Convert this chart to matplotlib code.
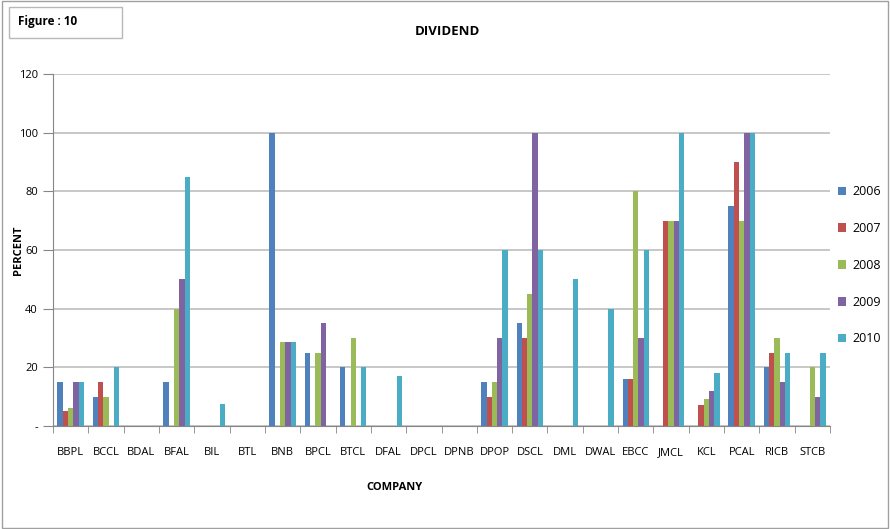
import matplotlib
matplotlib.use("Agg")
import matplotlib.pyplot as plt
import numpy as np
from matplotlib.patches import Rectangle

companies = ["BBPL", "BCCL", "BDAL", "BFAL", "BIL", "BTL", "BNB", "BPCL", "BTCL", "DFAL",
             "DPCL", "DPNB", "DPOP", "DSCL", "DML", "DWAL", "EBCC", "JMCL", "KCL", "PCAL",
             "RICB", "STCB"]
years = ["2006", "2007", "2008", "2009", "2010"]

div_2006 = [15, 10, 0, 15, 0, 0, 100, 25, 20, 0, 0, 0, 15, 35, 0, 0, 16, 0, 0, 75, 20, 0]
div_2007 = [5, 15, 0, 0, 0, 0, 0, 0, 0, 0, 0, 0, 10, 30, 0, 0, 16, 70, 7, 90, 25, 0]
div_2008 = [6, 10, 0, 40, 0, 0, 28.5, 25, 30, 0, 0, 0, 15, 45, 0, 0, 80, 70, 9, 70, 30, 20]
div_2009 = [15, 0, 0, 50, 0, 0, 28.5, 35, 0, 0, 0, 0, 30, 100, 0, 0, 30, 70, 12, 100, 15, 10]
div_2010 = [15, 20, 0, 85, 7.5, 0, 28.5, 0, 20, 17, 0, 0, 60, 60, 50, 40, 60, 100, 18, 100, 25, 25]

series = [div_2006, div_2007, div_2008, div_2009, div_2010]
colors = ["#4F81BD", "#C0504D", "#9BBB59", "#8064A2", "#4BACC6"]
yticks = [0, 20, 40, 60, 80, 100, 120]
ytick_labels = ["-", "20", "40", "60", "80", "100", "120"]

plt.rcParams["font.family"] = ["Open Sans", "DejaVu Sans"]

fig = plt.figure(figsize=(8.90, 5.29), dpi=100)
ax = fig.add_axes([0.0596, 0.195, 0.873, 0.665])

x = np.arange(len(companies))
w = 0.15
for i, (vals, c, yr) in enumerate(zip(series, colors, years)):
    ax.bar(x + (i - 2) * w, vals, width=w, color=c, label=yr, zorder=3)

ax.set_xlim(-0.5, len(companies) - 0.5)
ax.set_ylim(0, 120)
ax.set_yticks(yticks)
ax.set_yticklabels(ytick_labels, fontsize=8)
ax.set_xticks(x)
ax.set_xticklabels(companies, fontsize=8)
ax.tick_params(axis="x", length=0, pad=15)
ax.set_xticks(np.arange(-0.5, len(companies), 1.0), minor=True)
ax.tick_params(axis="x", which="minor", length=5, color="#868686", direction="out")
ax.tick_params(axis="y", length=7, color="#868686", direction="out", pad=4)

ax.grid(axis="y", color="#BEBEBE", linewidth=1.2, zorder=0)
for s in ["top", "right"]:
    ax.spines[s].set_visible(False)
for s in ["left", "bottom"]:
    ax.spines[s].set_color("#868686")

ax.set_ylabel("PERCENT", fontsize=8, fontweight="bold")
ax.yaxis.set_label_coords(-0.037, 0.5)
ax.set_xlabel("COMPANY", fontsize=8, fontweight="bold")
ax.xaxis.set_label_coords(0.44, -0.16)

fig.text(0.503, 0.941, "DIVIDEND", ha="center", va="center", fontsize=9.5, fontweight="bold")

leg = ax.legend(loc="upper left", bbox_to_anchor=(1.0, 0.705), frameon=False,
                fontsize=9, handlelength=0.7, handleheight=0.7, handletextpad=0.5,
                labelspacing=1.9, borderaxespad=0.2)

# outer frame and figure caption box
fig.patches.append(Rectangle((0.002, 0.002), 0.996, 0.996, transform=fig.transFigure,
                             fill=False, edgecolor="#A0A0A0", linewidth=1.0))
fig.patches.append(Rectangle((9 / 890, 1 - 38 / 529), 113 / 890, 31 / 529, transform=fig.transFigure,
                             fill=False, edgecolor="#B8B8B8", linewidth=1.0))
fig.text(18 / 890, 1 - 22 / 529, "Figure : 10", ha="left", va="center", fontsize=8.5, fontweight="bold")

fig.savefig("out.png", dpi=100)
